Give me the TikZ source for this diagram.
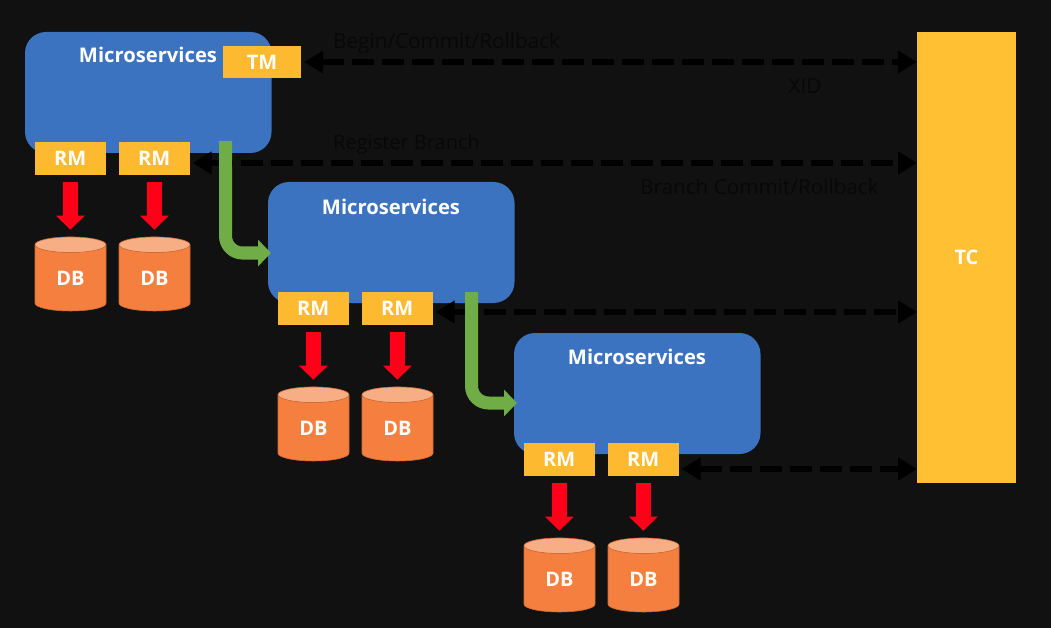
\documentclass[tikz,border=0pt]{standalone}
\usepackage{fontspec}
\setmainfont{Open Sans}
\usetikzlibrary{arrows.meta,calc,shapes.geometric}
\definecolor{pagebg}{HTML}{111111}
\definecolor{msblue}{HTML}{3C73C0}
\definecolor{tagyellow}{HTML}{FDB92F}
\definecolor{tcyellow}{HTML}{FFC133}
\definecolor{dborange}{HTML}{F47F3F}
\definecolor{dbtop}{HTML}{F8AE85}
\definecolor{callred}{HTML}{FF0018}
\definecolor{flowgreen}{HTML}{70AD47}
\definecolor{note}{HTML}{080808}
\tikzset{
  msbox/.style={fill=msblue,rounded corners=21pt,minimum width=246.5pt,minimum height=121pt,inner sep=0pt},
  mslabel/.style={text=white,font=\fontsize{20.2}{24}\selectfont\bfseries,inner sep=0pt},
  tag/.style={fill=tagyellow,text=white,minimum width=70.5pt,minimum height=33pt,inner sep=0pt,
    font=\fontsize{20}{24}\selectfont\bfseries},
  dbcyl/.style={cylinder,shape border rotate=90,aspect=0.55,minimum width=71pt,minimum height=74pt,inner sep=0pt,
    cylinder uses custom fill,cylinder body fill=dborange,cylinder end fill=dbtop,
    draw=dborange!85!black,line width=0.6pt,text=white,font=\fontsize{20}{24}\selectfont\bfseries},
  callarrow/.style={draw=callred,line width=15pt,shorten <=7pt,shorten >=7pt,
    -{Triangle[length=14pt,width=28pt]}},
  flowarrow/.style={draw=flowgreen,line width=13pt,rounded corners=17pt,
    -{Triangle[length=13pt,width=26pt]}},
  txarrow/.style={draw=black,line width=6pt,dash pattern=on 22pt off 8pt,
    {Triangle[length=19pt,width=22pt]}-{Triangle[length=19pt,width=22pt]},shorten <=2pt},
  notetext/.style={text=note,inner sep=0pt,font=\fontsize{20.7}{24}\selectfont},
}
% One service box with its two resource managers and databases
\newcommand{\servicegroup}[4]{%
  \node[msbox] (ms#1) at (#2+148.25,#3+92.5) {};
  \node[mslabel] (mslabel#1) at (#2+148,#3+#4) {Microservices};
  \node[tag] (rm#1a) at (#2+70.25,#3+158.5) {RM};
  \node[tag] (rm#1b) at (#2+154.25,#3+158.5) {RM};
  \node[dbcyl] (db#1a) at (#2+70.5,#3+278) {DB};
  \node[dbcyl] (db#1b) at (#2+154.5,#3+278) {DB};
  \draw[callarrow] (rm#1a) -- (db#1a);
  \draw[callarrow] (rm#1b) -- (db#1b);
}
\begin{document}
\begin{tikzpicture}[x=1pt,y=-1pt]
  \fill[pagebg] (0,0) rectangle (1051,628);
  \useasboundingbox (0,0) rectangle (1051,628);

  \node[fill=tcyellow,text=white,minimum width=99pt,minimum height=451pt,inner sep=0pt,
    font=\fontsize{20}{24}\selectfont\bfseries] (tc) at (966.5,257.5) {TC};

  \servicegroup{1}{0}{0}{55}
  \servicegroup{2}{243}{150}{57}
  \servicegroup{3}{489}{301}{56}

  \node[tag,minimum width=78pt,minimum height=32pt] (tm) at (262,62) {TM};

  % Transaction coordination lines towards the coordinator
  \coordinate (lane2) at (917,163);
  \coordinate (lane3) at (917,312);
  \coordinate (lane4) at (917,469);
  \draw[txarrow] ([xshift=1pt]tm.east) -- (tc.west |- tm.east);
  \draw[txarrow] ([xshift=1pt]rm1b.east |- lane2) -- (lane2);
  \draw[txarrow] ([xshift=1pt]rm2b.east |- lane3) -- (lane3);
  \draw[txarrow] ([xshift=1pt]rm3b.east |- lane4) -- (lane4);

  % Calls passed on between the services
  \coordinate (flow1s) at (225.5,141);
  \coordinate (flow1e) at (271,253);
  \coordinate (flow2s) at (471.5,292);
  \coordinate (flow2e) at (517,403);
  \draw[flowarrow] (flow1s) |- (flow1e);
  \draw[flowarrow] (flow2s) |- (flow2e);

  \node[notetext,anchor=base west] (begin) at (333,48.5) {Begin/Commit/Rollback};
  \node[notetext,anchor=base] (xid) at (805,93.5) {XID};
  \node[notetext,anchor=base west,font=\fontsize{20}{24}\selectfont] (register) at (333,150) {Register Branch};
  \node[notetext,anchor=base west] (branch) at (640,195) {Branch Commit/Rollback};
\end{tikzpicture}
\end{document}
